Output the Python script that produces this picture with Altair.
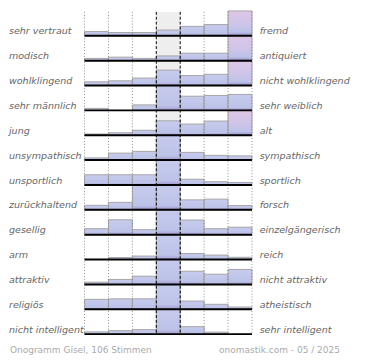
import altair as alt
import pandas as pd

# ---- data ----
left_labels = ["sehr vertraut", "modisch", "wohlklingend", "sehr männlich", "\u00a0jung",
               "unsympathisch", "unsportlich", "zurückhaltend", "gesellig", "arm",
               "attraktiv", "religiös", "nicht intelligent"]
right_labels = ["fremd", "antiquiert", "nicht wohlklingend", "sehr weiblich", "alt",
                "sympathisch", "sportlich", "forsch", "einzelgängerisch", "reich",
                "nicht attraktiv", "atheistisch", "sehr intelligent"]
# bar height in % of the row cell (100 = capped at the full cell)
row_01 = [17, 13, 13, 23, 38, 45, 100]
row_02 = [9, 14, 9, 19, 30, 30, 100]
row_03 = [15, 19, 30, 62, 40, 45, 100]
row_04 = [8, 0, 22, 100, 57, 60, 64]
row_05 = [5, 10, 20, 58, 45, 57, 100]
row_06 = [9, 28, 35, 100, 31, 19, 17]
row_07 = [41, 41, 41, 100, 23, 13, 10]
row_08 = [18, 30, 100, 100, 40, 43, 17]
row_09 = [24, 60, 20, 100, 59, 24, 30]
row_10 = [0, 8, 14, 100, 24, 18, 9]
row_11 = [9, 20, 33, 100, 53, 41, 60]
row_12 = [40, 42, 42, 100, 33, 20, 9]
row_13 = [9, 14, 18, 100, 30, 8, 0]
rows = [row_01, row_02, row_03, row_04, row_05, row_06, row_07,
        row_08, row_09, row_10, row_11, row_12, row_13]
footer_left = "Onogramm Gisel, 106 Stimmen"
footer_right = "onomastik.com - 05 / 2025"

# ---- layout ----
S = 362 / 370
W, H = 362, 352
N = len(rows)
NCOL = 7

x_scale = alt.Scale(domain=[(0 - 80) / 25, (370 - 80) / 25], range=[0, W], nice=False, zero=False)
y_scale = alt.Scale(domain=[(0 + 1) / 26, (360 + 1) / 26], range=[0, H], nice=False, zero=False)

bars = pd.DataFrame([
    {"r": r, "c": c, "v": v}
    for r, vals in enumerate(rows) for c, v in enumerate(vals)
])
bars = bars[bars.v > 0]

labels = pd.DataFrame({"r": list(range(N)), "left": left_labels, "right": right_labels})
base_rows = pd.DataFrame({"r": list(range(N))})
edges = pd.DataFrame({"e": list(range(NCOL + 1))})
top_v = 1 / 26

def X(f):
    return alt.X(f, scale=x_scale, axis=None)

def Y(f):
    return alt.Y(f, scale=y_scale, axis=None)

blue = alt.Gradient(gradient="linear", x1=0, x2=0, y1=0, y2=1, stops=[
    alt.GradientStop(color="#c7ccee", offset=0),
    alt.GradientStop(color="#bcc2e8", offset=0.82),
    alt.GradientStop(color="#aea8da", offset=0.93),
    alt.GradientStop(color="#9c8ecb", offset=1),
])
pink = alt.Gradient(gradient="linear", x1=0, x2=0, y1=0, y2=1, stops=[
    alt.GradientStop(color="#dec6e6", offset=0),
    alt.GradientStop(color="#cfc5e9", offset=0.5),
    alt.GradientStop(color="#bcc2e8", offset=0.85),
    alt.GradientStop(color="#9c8ecb", offset=1),
])

bg = alt.Chart(pd.DataFrame({"a": [3], "b": [4], "t": [top_v], "u": [N]})).mark_rect(
    fill="#eeeeee").encode(x=X("a:Q"), x2="b:Q", y=Y("t:Q"), y2="u:Q")

bar_base = alt.Chart(bars).transform_calculate(
    x2="datum.c + 1", yb="datum.r + 1", yt="datum.r + 1 - datum.v / 100"
)
bars_blue = bar_base.transform_filter("!(datum.v >= 100 && datum.c == 6)").mark_rect(
    fill=blue, stroke="#a4a4a4", strokeWidth=1
).encode(x=X("c:Q"), x2="x2:Q", y=Y("yt:Q"), y2="yb:Q")
bars_pink = bar_base.transform_filter("datum.v >= 100 && datum.c == 6").mark_rect(
    fill=pink, stroke="#a4a4a4", strokeWidth=1
).encode(x=X("c:Q"), x2="x2:Q", y=Y("yt:Q"), y2="yb:Q")

grid = alt.Chart(edges).transform_calculate(t=str(top_v), u=str(N))
dotted = grid.transform_filter("datum.e != 3 && datum.e != 4").mark_rule(
    color="#8a8a8a", strokeDash=[1, 2], strokeWidth=1
).encode(x=X("e:Q"), y=Y("t:Q"), y2="u:Q")
dashed = grid.transform_filter("datum.e == 3 || datum.e == 4").mark_rule(
    color="#000000", strokeDash=[3, 2], strokeWidth=1
).encode(x=X("e:Q"), y=Y("t:Q"), y2="u:Q")

baselines = alt.Chart(base_rows).transform_calculate(
    yb="datum.r + 1", x0="0", x1=str(NCOL)
).mark_rule(color="#000000", strokeWidth=2).encode(x=X("x0:Q"), x2="x1:Q", y=Y("yb:Q"))

lab = alt.Chart(labels).transform_calculate(ty="datum.r + 1 - 1.5 / 26")
txt_style = dict(baseline="alphabetic", font="DejaVu Sans", fontStyle="italic",
                 fontSize=10 * S, color="#666666")
left_t = lab.mark_text(align="left", **txt_style).encode(
    x=alt.value(1 * S), y=Y("ty:Q"), text="left:N")
right_t = lab.mark_text(align="left", **txt_style).encode(
    x=alt.value(263 * S), y=Y("ty:Q"), text="right:N")

foot_style = dict(baseline="alphabetic", font="DejaVu Sans", fontSize=9.4 * S, color="#aaaaaa")
foot_l = alt.Chart(pd.DataFrame({"t": [footer_left]})).mark_text(align="left", **foot_style).encode(
    x=alt.value(2 * S), y=alt.value(356.5 * S), text="t:N")
foot_r = alt.Chart(pd.DataFrame({"t": [footer_right]})).mark_text(align="right", **foot_style).encode(
    x=alt.value(347 * S), y=alt.value(356.5 * S), text="t:N")

chart = alt.layer(
    bg, bars_blue, bars_pink, dotted, dashed, baselines, left_t, right_t, foot_l, foot_r
).properties(
    width=W, height=H, autosize=alt.AutoSizeParams(type="none"), padding=0
).configure(background="#ffffff", view=alt.ViewConfig(stroke=None, strokeWidth=0))

chart.save("out.html", embed_options={"renderer": "svg", "actions": False})
